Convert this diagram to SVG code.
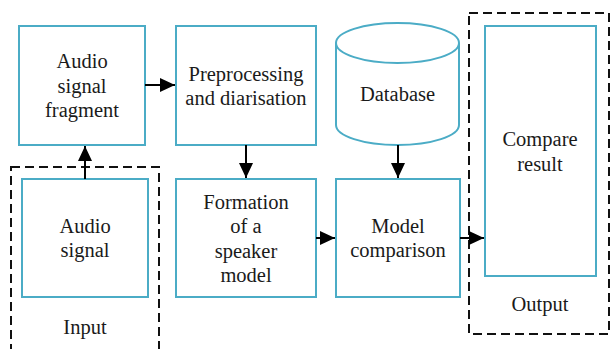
<svg xmlns="http://www.w3.org/2000/svg" width="611" height="349" viewBox="0 0 611 349">
<style>
.box{fill:#fff;stroke:#4bacc6;stroke-width:2}
.dash{fill:none;stroke:#111;stroke-width:2;stroke-dasharray:9 5}
.t{font-family:'Liberation Serif','Times New Roman',Times,Tinos,'Noto Serif','DejaVu Serif',FreeSerif,serif;font-size:20.5px;fill:#1a1a1a;text-anchor:middle}
.c{stroke:#000;stroke-width:2;fill:none}
</style>
<defs>
<marker id="ah" viewBox="0 0 15 14" refX="15" refY="7" markerWidth="15" markerHeight="14" markerUnits="userSpaceOnUse" orient="auto">
<path d="M0,0 L15,7 L0,14 z" fill="#000"/>
</marker>
</defs>
<rect width="611" height="349" fill="#fff"/>
<g id="input-group">
<rect class="dash" x="11" y="167" width="148" height="190"/>
<text class="t" x="85" y="334" font-family="Liberation Serif">Input</text>
</g>
<g id="output-group">
<rect class="dash" x="469" y="13" width="140" height="321"/>
<text class="t" x="540" y="311">Output</text>
</g>
<g id="fragment">
<rect class="box" x="19" y="26" width="126" height="119"/>
<text class="t" x="82" y="68">Audio</text>
<text class="t" x="82" y="93">signal</text>
<text class="t" x="82" y="117">fragment</text>
</g>
<g id="preprocessing">
<rect class="box" x="176" y="26" width="140" height="119"/>
<text class="t" x="246" y="81">Preprocessing</text>
<text class="t" x="246" y="105">and diarisation</text>
</g>
<g id="database">
<path class="box" d="M336,43 L336,125 A61.5,20 0 0 0 459,125 L459,43"/>
<ellipse class="box" cx="397.5" cy="43" rx="61.5" ry="20"/>
<text class="t" x="397.5" y="101">Database</text>
</g>
<g id="compare">
<rect class="box" x="485" y="26" width="111" height="250"/>
<text class="t" x="540" y="146">Compare</text>
<text class="t" x="540" y="171">result</text>
</g>
<g id="audio-signal">
<rect class="box" x="22" y="179" width="126" height="118"/>
<text class="t" x="85" y="233">Audio</text>
<text class="t" x="85" y="257">signal</text>
</g>
<g id="formation">
<rect class="box" x="176" y="179" width="140" height="118"/>
<text class="t" x="246" y="209">Formation</text>
<text class="t" x="246" y="233">of a</text>
<text class="t" x="246" y="258">speaker</text>
<text class="t" x="246" y="282">model</text>
</g>
<g id="model-comparison">
<rect class="box" x="336" y="179" width="124" height="118"/>
<text class="t" x="398" y="233">Model</text>
<text class="t" x="398" y="257">comparison</text>
</g>
<g id="connectors">
<line class="c" x1="85" y1="179" x2="85" y2="146" marker-end="url(#ah)"/>
<line class="c" x1="145" y1="85" x2="175" y2="85" marker-end="url(#ah)"/>
<line class="c" x1="246" y1="145" x2="246" y2="178" marker-end="url(#ah)"/>
<line class="c" x1="398" y1="145" x2="398" y2="178" marker-end="url(#ah)"/>
<line class="c" x1="316" y1="238" x2="335" y2="238" marker-end="url(#ah)"/>
<line class="c" x1="460" y1="238" x2="484" y2="238" marker-end="url(#ah)"/>
</g>
</svg>
